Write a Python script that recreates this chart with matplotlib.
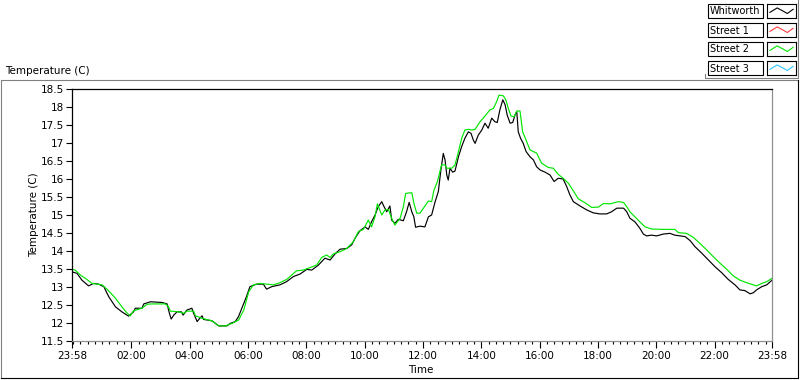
import numpy as np
import matplotlib
matplotlib.use('Agg')
from matplotlib import pyplot as plt
from matplotlib.lines import Line2D
from matplotlib.patches import Rectangle

# axis annotations
chart_title = 'Temperature (C)'
y_label = 'Temperature (C)'
x_label = 'Time'
start_clock = '23:58'
time_labels = ['23:58', '02:00', '04:00', '06:00', '08:00', '10:00', '12:00',
               '14:00', '16:00', '18:00', '20:00', '22:00', '23:58']
temp_ticks = [11.5, 12, 12.5, 13, 13.5, 14, 14.5, 15, 15.5, 16, 16.5, 17, 17.5, 18, 18.5]
series_names = ['Whitworth', 'Street 1', 'Street 2', 'Street 3']
series_colors = ['#000000', '#ff3c3c', '#00e600', '#28c8ff']

# hours elapsed since 23:58, temperature in C
whitworth_hours = [0, 0.17, 0.34, 0.57, 0.74, 0.91, 1.09, 1.26, 1.49, 1.71, 1.94, 2.11, 2.17,
                   2.40, 2.46, 2.69, 3.09, 3.26, 3.34, 3.40, 3.49, 3.60, 3.75, 3.81, 3.94,
                   4.11, 4.17, 4.29, 4.38, 4.46, 4.51, 4.80, 5.03, 5.31, 5.43, 5.60, 5.71,
                   5.89, 5.99, 6.10, 6.33, 6.56, 6.67, 6.85, 7.13, 7.36, 7.59, 7.82, 8.05,
                   8.22, 8.45, 8.67, 8.85, 9.02, 9.19, 9.42, 9.59, 9.70, 9.87, 10.05, 10.16,
                   10.27, 10.39, 10.50, 10.62, 10.70, 10.79, 10.90, 10.96, 11.07, 11.19,
                   11.36, 11.47, 11.56, 11.65, 11.72, 11.78, 11.93, 12.10, 12.22, 12.33,
                   12.45, 12.56, 12.64, 12.73, 12.79, 12.85, 12.90, 12.96, 13.05, 13.13,
                   13.25, 13.36, 13.47, 13.59, 13.68, 13.76, 13.82, 13.93, 14.05, 14.16,
                   14.27, 14.39, 14.50, 14.58, 14.67, 14.77, 14.85, 14.92, 15.02, 15.11,
                   15.19, 15.25, 15.30, 15.38, 15.47, 15.57, 15.70, 15.82, 15.93, 16.05,
                   16.22, 16.39, 16.53, 16.67, 16.84, 16.96, 17.07, 17.19, 17.42, 17.65,
                   17.87, 18.10, 18.33, 18.50, 18.68, 18.91, 19.02, 19.13, 19.30, 19.47,
                   19.59, 19.70, 19.87, 20.05, 20.27, 20.50, 20.67, 20.85, 21.02, 21.19,
                   21.36, 21.59, 21.82, 22.05, 22.27, 22.50, 22.73, 22.90, 23.07, 23.25,
                   23.36, 23.47, 23.65, 23.82, 24.0]
whitworth_temp = [13.42, 13.38, 13.19, 13.03, 13.10, 13.08, 13.01, 12.73, 12.45, 12.31, 12.19,
                  12.31, 12.41, 12.41, 12.53, 12.59, 12.57, 12.53, 12.27, 12.11, 12.22, 12.31,
                  12.31, 12.22, 12.36, 12.41, 12.27, 12.04, 12.13, 12.20, 12.10, 12.06, 11.92,
                  11.92, 11.99, 12.04, 12.18, 12.55, 12.75, 13.01, 13.08, 13.08, 12.94, 13.01,
                  13.06, 13.15, 13.29, 13.36, 13.49, 13.47, 13.61, 13.80, 13.75, 13.92, 14.05,
                  14.07, 14.17, 14.35, 14.56, 14.67, 14.60, 14.81, 15.00, 15.23, 15.37, 15.23,
                  15.09, 15.25, 14.86, 14.77, 14.88, 14.84, 15.09, 15.35, 15.09, 14.95, 14.66,
                  14.69, 14.67, 14.95, 15.00, 15.37, 15.65, 16.20, 16.71, 16.53, 16.11, 15.97,
                  16.30, 16.19, 16.22, 16.62, 16.90, 17.13, 17.31, 17.27, 17.08, 16.99, 17.22,
                  17.36, 17.55, 17.41, 17.69, 17.59, 17.57, 17.92, 18.20, 18.06, 17.78, 17.55,
                  17.57, 17.78, 17.87, 17.31, 17.13, 16.99, 16.76, 16.62, 16.53, 16.34, 16.25,
                  16.19, 16.11, 15.93, 16.02, 16.00, 15.79, 15.56, 15.37, 15.25, 15.14, 15.06,
                  15.03, 15.03, 15.09, 15.19, 15.19, 15.09, 14.91, 14.81, 14.63, 14.47, 14.42,
                  14.44, 14.42, 14.47, 14.49, 14.44, 14.42, 14.40, 14.29, 14.12, 13.94, 13.75,
                  13.56, 13.40, 13.21, 13.06, 12.92, 12.90, 12.81, 12.84, 12.92, 13.01, 13.06,
                  13.19]

street1_hours = []
street1_temp = []

street2_hours = [0, 0.11, 0.29, 0.46, 0.69, 1.03, 1.20, 1.49, 1.71, 1.89, 2.00, 2.11, 2.40,
                 2.57, 2.74, 3.20, 3.31, 3.37, 3.66, 3.83, 3.94, 4.17, 4.23, 4.46, 4.80, 5.03,
                 5.26, 5.49, 5.71, 5.89, 6.06, 6.22, 6.44, 6.67, 6.90, 7.13, 7.36, 7.70, 7.93,
                 8.22, 8.39, 8.56, 8.73, 8.85, 8.96, 9.19, 9.42, 9.65, 9.82, 9.99, 10.16,
                 10.27, 10.39, 10.47, 10.62, 10.73, 10.85, 10.96, 11.07, 11.25, 11.36, 11.44,
                 11.65, 11.73, 11.82, 11.93, 12.05, 12.22, 12.33, 12.41, 12.53, 12.67, 12.79,
                 12.85, 13.02, 13.13, 13.25, 13.36, 13.47, 13.59, 13.71, 13.82, 13.99, 14.10,
                 14.19, 14.33, 14.45, 14.56, 14.64, 14.79, 14.88, 14.96, 15.05, 15.16, 15.25,
                 15.36, 15.45, 15.57, 15.70, 15.82, 15.93, 16.10, 16.33, 16.50, 16.67, 16.84,
                 17.02, 17.19, 17.36, 17.59, 17.82, 18.05, 18.22, 18.45, 18.73, 18.91, 19.02,
                 19.13, 19.30, 19.47, 19.65, 19.87, 20.27, 20.67, 20.79, 21.07, 21.30, 21.53,
                 21.76, 21.99, 22.22, 22.45, 22.67, 22.90, 23.13, 23.47, 23.65, 23.82, 24.0]
street2_temp = [13.49, 13.47, 13.33, 13.24, 13.10, 13.06, 12.94, 12.69, 12.45, 12.27, 12.20,
                12.34, 12.41, 12.52, 12.53, 12.53, 12.45, 12.33, 12.31, 12.27, 12.33, 12.33,
                12.20, 12.13, 12.06, 11.92, 11.92, 11.99, 12.08, 12.36, 12.87, 13.06, 13.10,
                13.08, 13.06, 13.12, 13.21, 13.45, 13.47, 13.56, 13.61, 13.82, 13.89, 13.82,
                13.92, 13.98, 14.07, 14.26, 14.54, 14.60, 14.86, 14.67, 14.95, 15.31, 15.00,
                15.14, 15.15, 14.91, 14.72, 14.91, 15.23, 15.60, 15.62, 15.30, 15.05, 15.05,
                15.19, 15.39, 15.37, 15.69, 15.93, 16.39, 16.39, 16.30, 16.30, 16.39, 16.76,
                17.13, 17.36, 17.38, 17.36, 17.38, 17.59, 17.69, 17.78, 17.92, 17.96, 18.15,
                18.33, 18.31, 18.19, 17.96, 17.75, 17.73, 17.89, 17.89, 17.31, 17.08, 16.81,
                16.76, 16.72, 16.44, 16.32, 16.30, 16.13, 16.02, 15.88, 15.67, 15.45, 15.34,
                15.21, 15.22, 15.32, 15.31, 15.37, 15.35, 15.23, 15.09, 14.95, 14.81, 14.67,
                14.61, 14.60, 14.60, 14.51, 14.49, 14.38, 14.21, 14.03, 13.84, 13.66, 13.49,
                13.31, 13.19, 13.12, 13.03, 13.10, 13.15, 13.24]

street3_hours = []
street3_temp = []

W, H = 800, 380


def hours_since_start(clock, last=False):
    """Hours between the start clock time and a clock label."""
    h0, m0 = map(int, start_clock.split(':'))
    h, m = map(int, clock.split(':'))
    delta = ((h * 60 + m) - (h0 * 60 + m0)) % (24 * 60) / 60
    return 24.0 if last else delta


def fig_line(x, y, color):
    """Pixel coords line on the figure."""
    fig.add_artist(Line2D([v / W for v in x], [1 - v / H for v in y],
                          color=color, lw=0.8, transform=fig.transFigure))


plt.rcParams['font.family'] = 'DejaVu Sans'
fig = plt.figure(figsize=(W / 100, H / 100), dpi=100)
fig.patch.set_facecolor('white')

# sunken outer frame
fig_line([1, 1, 798], [378, 80, 80], '#808080')
fig_line([1, 798, 798], [378, 378, 80], '#000000')

ax = fig.add_axes([72 / W, 1 - 341 / H, 700 / W, 252 / H])
series = [(whitworth_hours, whitworth_temp), (street1_hours, street1_temp),
          (street2_hours, street2_temp), (street3_hours, street3_temp)]
for (hrs, temps), name, color in zip(series, series_names, series_colors):
    ax.plot(hrs, temps, color=color, lw=0.85, label=name)

ax.set_xlim(0, 24)
ax.set_ylim(temp_ticks[0], temp_ticks[-1])
major = [hours_since_start(t, last=(i == len(time_labels) - 1)) for i, t in enumerate(time_labels)]
ax.set_xticks(major)
ax.set_xticklabels(time_labels)
ax.set_xticks(np.arange(2 / 60, 24, 0.25), minor=True)
ax.set_yticks(temp_ticks)
ax.set_yticklabels([f'{t:g}' for t in temp_ticks])
ax.tick_params(axis='both', which='major', direction='out', length=4, width=0.8,
               labelsize=7.5, pad=2)
ax.tick_params(axis='x', which='minor', direction='out', length=2.5, width=0.8)
ax.tick_params(axis='x', which='major', length=5)
ax.spines['top'].set_color('black')
ax.spines['left'].set_color('black')
ax.spines['bottom'].set_color('#909090')
ax.spines['right'].set_color('#909090')
for s in ax.spines.values():
    s.set_linewidth(0.9)

fig.text(5 / W, 1 - 71 / H, chart_title, fontsize=7.5, va='center', ha='left')
fig.text(34 / W, 1 - 215 / H, y_label, fontsize=7.5, rotation=90, va='center', ha='center')
fig.text(421 / W, 1 - 370 / H, x_label, fontsize=7.5, va='center', ha='center')

# legend boxes, top right
for i, (name, color) in enumerate(zip(series_names, series_colors)):
    top = 4 + 19 * i
    fig.add_artist(Rectangle((708 / W, 1 - (top + 14) / H), 55 / W, 14 / H, fill=False,
                             edgecolor='black', lw=0.8, transform=fig.transFigure))
    fig.text(710 / W, 1 - (top + 7.5) / H, name, fontsize=7, va='center', ha='left')
    sw = fig.add_axes([767 / W, 1 - (top + 14) / H, 29 / W, 14 / H])
    sw.set_xlim(0, 1)
    sw.set_ylim(0, 1)
    sw.set_xticks([])
    sw.set_yticks([])
    for s in sw.spines.values():
        s.set_linewidth(0.8)
    sw.plot([0.1, 0.35, 0.55, 0.7, 0.9], [0.4, 0.72, 0.5, 0.32, 0.62], color=color, lw=0.8)
fig_line([705, 705, 798, 798], [74, 78, 78, 0], '#808080')

fig.savefig('out.png', dpi=100)
